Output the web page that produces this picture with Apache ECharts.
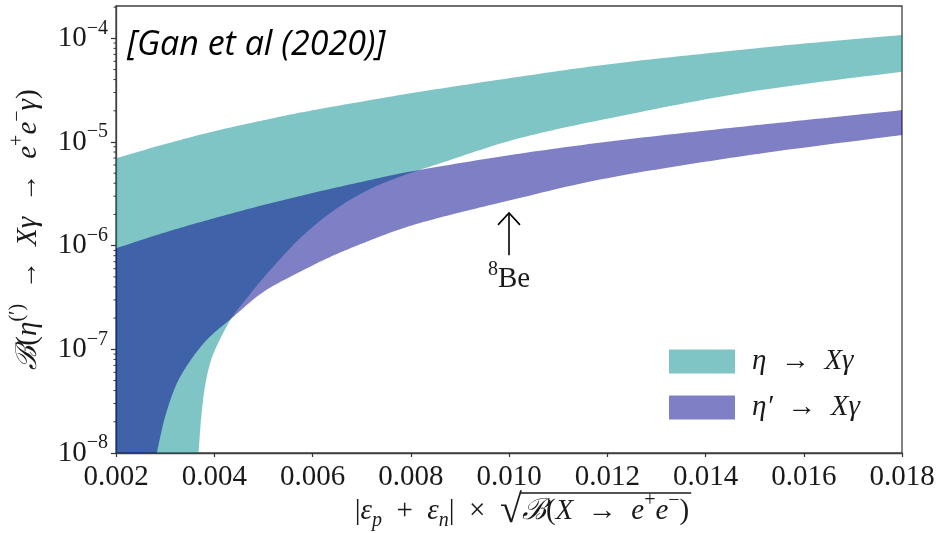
<!DOCTYPE html>
<html><head><meta charset="utf-8">
<script src="https://cdn.jsdelivr.net/npm/echarts@6/dist/echarts.min.js"></script>
<style>html,body{margin:0;padding:0;background:#fff}#c{width:939px;height:533px}</style>
</head><body><div id="c"></div>
<script>
// ---------------- data ----------------
const xTickLabels = ['0.002','0.004','0.006','0.008','0.010','0.012','0.014','0.016','0.018'];
const yTickExponents = [-8, -7, -6, -5, -4];
const seriesNames = ['η → Xγ', 'η′ → Xγ'];

// eta -> X gamma band
const etaUpperX = [0.002, 0.003, 0.004, 0.005, 0.006, 0.008, 0.010, 0.012, 0.014, 0.016, 0.018];
const etaUpper  = [6.97e-6, 9.55e-6, 1.27e-5, 1.62e-5, 2.02e-5, 2.95e-5, 4.12e-5, 5.60e-5, 7.14e-5, 8.89e-5, 1.076e-4];
const etaLowerX = [0.00368, 0.00373, 0.0038, 0.0039, 0.00404, 0.00435, 0.0047, 0.00507, 0.00575, 0.00642, 0.0071, 0.00778, 0.0086, 0.0102, 0.0122, 0.0149, 0.018];
const etaLower  = [1.0e-8, 2.08e-8, 4.05e-8, 6.9e-8, 1.05e-7, 1.99e-7, 3.27e-7, 5.33e-7, 1.186e-6, 2.16e-6, 3.39e-6, 4.62e-6, 6.24e-6, 1.084e-5, 1.754e-5, 3.05e-5, 4.76e-5];

// eta' -> X gamma band
const etapUpperX = [0.002, 0.003, 0.004, 0.005, 0.006, 0.007, 0.008, 0.010, 0.012, 0.014, 0.016, 0.018];
const etapUpper  = [9.42e-7, 1.343e-6, 1.84e-6, 2.466e-6, 3.22e-6, 4.12e-6, 5.19e-6, 7.45e-6, 1.005e-5, 1.288e-5, 1.622e-5, 2.03e-5];
const etapLowerX = [0.00283, 0.0030, 0.00324, 0.00357, 0.00391, 0.00435, 0.0050, 0.00575, 0.0064, 0.0071, 0.0078, 0.0086, 0.0100, 0.0120, 0.0149, 0.018];
const etapLower  = [1.0e-8, 2.24e-8, 4.7e-8, 8.5e-8, 1.32e-7, 1.99e-7, 3.58e-7, 5.61e-7, 7.94e-7, 1.09e-6, 1.45e-6, 1.87e-6, 2.72e-6, 4.48e-6, 7.48e-6, 1.167e-5];

// 8Be annotation
const annotX = 0.010;
const annotArrowTail = 8.1e-7;
const annotArrowTip = 2.07e-6;
const annotLabelY = 4.7e-7;
const annotLabel = '8Be';

const xMin = 0.002, xMax = 0.018, xStep = 0.002;
const yMin = 1e-8, yMax = 2.05e-4;

// ---------------- rendering ----------------
const SERIF = "'Liberation Serif','DejaVu Serif',serif";
const TXT = '#1a1a1a';
const colEta = 'rgba(0,139,139,0.5)';
const colEtap = 'rgba(0,0,139,0.5)';
const EN = '\u2002';

function catmull(pts, steps) {
  const out = [pts[0]];
  for (let i = 0; i < pts.length - 1; i++) {
    const p0 = pts[i - 1] || pts[i], p1 = pts[i], p2 = pts[i + 1], p3 = pts[i + 2] || pts[i + 1];
    const c1 = [p1[0] + (p2[0] - p0[0]) / 6, p1[1] + (p2[1] - p0[1]) / 6];
    const c2 = [p2[0] - (p3[0] - p1[0]) / 6, p2[1] - (p3[1] - p1[1]) / 6];
    for (let s = 1; s <= steps; s++) {
      const t = s / steps, u = 1 - t;
      out.push([
        u*u*u*p1[0] + 3*u*u*t*c1[0] + 3*u*t*t*c2[0] + t*t*t*p2[0],
        u*u*u*p1[1] + 3*u*u*t*c1[1] + 3*u*t*t*c2[1] + t*t*t*p2[1]
      ]);
    }
  }
  return out;
}

function bandRenderer(ux, uy, lx, ly, color) {
  return function (params, api) {
    if (params.dataIndex !== 0) return;
    const up = ux.map((x, i) => api.coord([x, uy[i]]));
    const lo = lx.map((x, i) => api.coord([x, ly[i]]));
    let pts = catmull(up, 16);
    pts = pts.concat(catmull(lo.slice().reverse(), 16));
    if (lx[0] > ux[0]) pts.push(api.coord([ux[0], yMin]));
    return { type: 'polygon', shape: { points: pts }, style: { fill: color } };
  };
}

const minorTicks = [];
for (let e = -8; e <= -4; e++) for (let m = 2; m <= 9; m++) {
  const v = m * Math.pow(10, e);
  if (v <= yMax) minorTicks.push(v);
}

const FS = 29;
const supRich = {
  r: { fontFamily: SERIF, fontSize: FS, lineHeight: 40, color: TXT },
  i: { fontFamily: SERIF, fontSize: FS, lineHeight: 40, fontStyle: 'italic', color: TXT },
  m: { fontFamily: SERIF, fontSize: FS, lineHeight: 40, fontStyle: 'italic', color: TXT },
  s: { fontFamily: SERIF, fontSize: 20, lineHeight: 22, verticalAlign: 'top', color: TXT },
  xs: { fontFamily: SERIF, fontSize: 20, lineHeight: 25, verticalAlign: 'top', color: TXT },
  sub: { fontFamily: SERIF, fontSize: 20, lineHeight: 28, verticalAlign: 'bottom', fontStyle: 'italic', color: TXT },
  sq: { fontFamily: SERIF, fontSize: 40, lineHeight: 40, color: TXT }
};
function richOf(tokens) { return tokens.map(t => '{' + t[0] + '|' + t[1] + '}').join(''); }

const yNameTokens = [['m','ℬ'],['r','('],['i','η'],['s','(′)'],['r',EN + '→' + EN],['i','Xγ'],['r',EN + '→' + EN],['i','e'],['s','+'],['i','e'],['s','−'],['i','γ'],['r',')']];
const xNameTokens = [['r','|'],['i','ε'],['sub','p'],['r',EN + '+' + EN],['i','ε'],['sub','n'],['r','|' + EN + '×' + EN],['sq','√'],['m','ℬ'],['r','('],['i','X'],['r',EN + '→' + EN],['i','e'],['xs','+'],['i','e'],['xs','−'],['r',')']];
const legendRich = {
  'η → Xγ': '{i|η}{r|' + EN + '→' + EN + '}{i|Xγ}',
  'η′ → Xγ': '{i|η′}{r|' + EN + '→' + EN + '}{i|Xγ}'
};

// measure x-name tokens to place the radical's overline
const mctx = document.createElement('canvas').getContext('2d');
function tokW(t) {
  const st = supRich[t[0]];
  mctx.font = (st.fontStyle === 'italic' ? 'italic ' : '') + st.fontSize + 'px ' + SERIF;
  return mctx.measureText(t[1]).width;
}
const xNamePad = 26;
let xNameW = 0, xSqrtEnd = 0;
xNameTokens.forEach(t => { xNameW += tokW(t); if (t[0] === 'sq') xSqrtEnd = xNameW; });
const gridL = 116, gridR = 939 - 37, gridB = 533 - 80;
const xNameStart = (gridL + gridR) / 2 + xNamePad / 2 - xNameW / 2;
const xNameGap = 38;
const overlineY = gridB + xNameGap + 2;

const chart = echarts.init(document.getElementById('c'), null, { renderer: 'canvas' });
chart.setOption({
  animation: false,
  backgroundColor: '#fff',
  grid: { left: 116, top: 6, right: 37, bottom: 80, show: true, borderColor: '#404040', borderWidth: 1.3, containLabel: false, outerBoundsMode: 'none' },
  xAxis: {
    type: 'value', min: xMin, max: xMax, interval: xStep,
    axisLine: { show: true, lineStyle: { color: '#404040', width: 1.3 } },
    axisTick: { show: true, length: 4, lineStyle: { color: '#333', width: 1.2 } },
    splitLine: { show: false },
    axisLabel: {
      margin: 9, fontFamily: SERIF, fontSize: FS, lineHeight: 30, color: TXT,
      formatter: (v) => xTickLabels[Math.round((v - xMin) / xStep)] || ''
    },
    name: richOf(xNameTokens), nameLocation: 'middle', nameGap: xNameGap, nameMoveOverlap: false,
    nameTextStyle: { rich: supRich, padding: [0, 0, 0, xNamePad] }
  },
  yAxis: {
    type: 'log', logBase: 10, min: yMin, max: yMax,
    axisLine: { show: true, lineStyle: { color: '#404040', width: 1.3 } },
    axisTick: { show: true, length: 5, lineStyle: { color: '#333', width: 1.2 } },
    splitLine: { show: false },
    minorTick: { show: false },
    axisLabel: {
      margin: 8, showMaxLabel: false,
      formatter: (v) => {
        const l = Math.log10(v), e = Math.round(l);
        if (Math.abs(l - e) > 1e-6 || yTickExponents.indexOf(e) < 0) return '';
        return '{b|10}{s|−' + (-e) + '}';
      },
      rich: {
        b: { fontFamily: SERIF, fontSize: FS, lineHeight: 40, color: TXT },
        s: { fontFamily: SERIF, fontSize: 20, lineHeight: 26, verticalAlign: 'top', color: TXT }
      }
    },
    name: richOf(yNameTokens), nameLocation: 'middle', nameGap: 68, nameRotate: 90, nameMoveOverlap: false,
    nameTextStyle: { rich: supRich }
  },
  legend: {
    orient: 'vertical', left: 664, top: 342, itemWidth: 66, itemHeight: 24, itemGap: 17,
    icon: 'rect', selectedMode: false,
    data: seriesNames,
    formatter: (n) => legendRich[n] || n,
    textStyle: {
      padding: [0, 0, 0, 12], lineHeight: 24, fontSize: FS,
      rich: {
        r: { fontFamily: SERIF, fontSize: FS, lineHeight: 24, color: TXT },
        i: { fontFamily: SERIF, fontSize: FS, lineHeight: 24, fontStyle: 'italic', color: TXT }
      }
    }
  },
  graphic: [
    {
      type: 'text', x: 127, y: 45, silent: true,
      style: { text: '[Gan et al (2020)]', font: 'italic 34px "Open Sans"', fill: '#000', textVerticalAlign: 'middle', textAlign: 'left' }
    },
    {
      type: 'line', silent: true,
      shape: { x1: xNameStart + xSqrtEnd - 2, y1: overlineY, x2: xNameStart + xNameW + 2, y2: overlineY },
      style: { stroke: TXT, lineWidth: 1.3 }
    }
  ],
  series: [
    {
      name: seriesNames[0], type: 'custom', itemStyle: { color: colEta }, silent: true,
      data: [[etaUpperX[0], etaUpper[0]]],
      renderItem: bandRenderer(etaUpperX, etaUpper, etaLowerX, etaLower, colEta)
    },
    {
      name: seriesNames[1], type: 'custom', itemStyle: { color: colEtap }, silent: true,
      data: [[etapUpperX[0], etapUpper[0]]],
      renderItem: bandRenderer(etapUpperX, etapUpper, etapLowerX, etapLower, colEtap)
    },
    {
      type: 'custom', silent: true, clip: false,
      data: minorTicks.map(v => [xMin, v]),
      renderItem: (params, api) => {
        const p = api.coord([api.value(0), api.value(1)]);
        return { type: 'line', shape: { x1: p[0] - 2.5, y1: p[1], x2: p[0], y2: p[1] }, style: { stroke: '#333', lineWidth: 1 } };
      }
    },
    {
      type: 'custom', silent: true, clip: false,
      data: [[annotX, annotArrowTail, annotArrowTip, annotLabelY]],
      renderItem: (params, api) => {
        const tail = api.coord([api.value(0), api.value(1)]);
        const tip = api.coord([api.value(0), api.value(2)]);
        const lab = api.coord([api.value(0), api.value(3)]);
        return {
          type: 'group', children: [
            { type: 'line', shape: { x1: tail[0], y1: tail[1], x2: tip[0], y2: tip[1] }, style: { stroke: '#000', lineWidth: 1.6 } },
            { type: 'polyline', shape: { points: [[tip[0] - 11, tip[1] + 12], [tip[0], tip[1]], [tip[0] + 11, tip[1] + 12]] }, style: { stroke: '#000', lineWidth: 1.6, fill: null } },
            { type: 'text', x: lab[0], y: lab[1], style: {
                text: '{s|' + annotLabel.slice(0, 1) + '}{r|' + annotLabel.slice(1) + '}',
                align: 'center', verticalAlign: 'middle',
                rich: {
                  r: { fontFamily: SERIF, fontSize: FS, lineHeight: 40, fill: TXT },
                  s: { fontFamily: SERIF, fontSize: 20, lineHeight: 26, verticalAlign: 'top', fill: TXT }
                }
            } }
          ]
        };
      }
    }
  ]
});
</script>
</body></html>
